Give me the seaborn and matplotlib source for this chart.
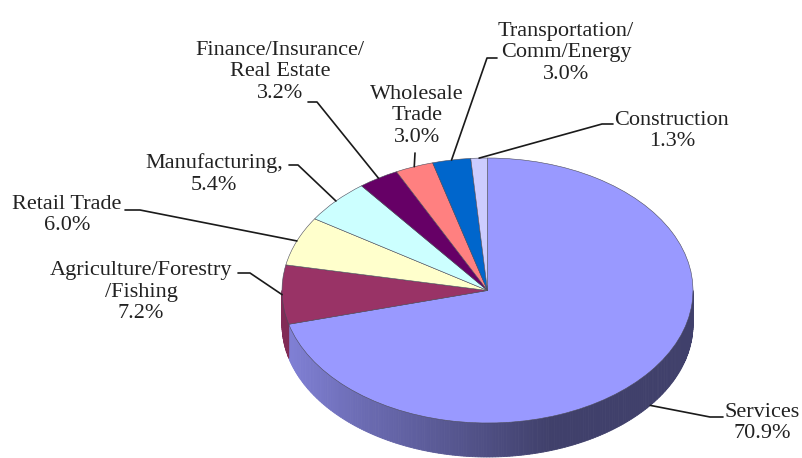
import matplotlib
matplotlib.use("Agg")
import matplotlib.pyplot as plt
from matplotlib.patches import Polygon
from matplotlib.colors import to_rgb
import numpy as np
import seaborn as sns

# data
sectors = ['Services', 'Agriculture/Forestry\n/Fishing', 'Retail Trade', 'Manufacturing,',
           'Finance/Insurance/\nReal Estate', 'Wholesale\nTrade',
           'Transportation/\nComm/Energy', 'Construction']
shares = [70.9, 7.2, 6.0, 5.4, 3.2, 3.0, 3.0, 1.3]
colors = ['#9999FF', '#993366', '#FFFFCC', '#CCFFFF', '#660066', '#FF8080', '#0066CC', '#CCCCFF']

# layout in pixels of the 803x458 canvas
CX, CY, RX, RY, DEPTH = 487.5, 290.5, 205.5, 132.5, 34
label_pos = [(762, 423), (141, 292), (67, 215), (214, 174),
             (280, 72), (417, 116), (566, 53), (672, 131)]
leader_px = [[(723, 417), (710, 417)], [(238, 273), (250, 273)], [(125, 210), (140, 210)],
             [(289, 165), (298, 165)], [(308, 102), (317, 102)], [(415, 153)],
             [(497, 58), (487, 58)], [(613, 124), (602, 124)]]


def px(x, y):
    # pixel -> pie units (unit circle squashed to the ellipse)
    return (x - CX) / RX, (CY - y) / RY


sns.set_theme(style="white")
plt.rcParams['font.family'] = ['Liberation Serif', 'DejaVu Serif']

fig = plt.figure(figsize=(8.03, 4.58), dpi=100)
ax = fig.add_axes([0, 0, 1, 1])

h = DEPTH / RY
cum = np.concatenate([[0], np.cumsum(shares)])
t_start = 90 - 3.6 * cum[:-1]
t_end = 90 - 3.6 * cum[1:]

# side wall, only the front half (-180..0 deg) shows
for i in range(len(shares)):
    lo, hi = max(t_end[i], -180), min(t_start[i], 0)
    if lo >= hi:
        continue
    base = np.array(to_rgb(colors[i]))
    steps = np.linspace(lo, hi, int((hi - lo) / 0.8) + 2)
    for a, b in zip(steps[:-1], steps[1:]):
        ra, rb = np.radians(a), np.radians(b)
        f = np.interp(np.cos(np.radians((a + b) / 2)), [-1, -0.6, 0.3], [0.85, 0.7, 0.42])
        c = np.clip(base * f, 0, 1)
        quad = [(np.cos(ra), np.sin(ra)), (np.cos(rb), np.sin(rb)),
                (np.cos(rb), np.sin(rb) - h), (np.cos(ra), np.sin(ra) - h)]
        ax.add_patch(Polygon(quad, closed=True, facecolor=c, edgecolor=c, lw=0.6, zorder=1))

ax.pie(shares, colors=colors, startangle=90, counterclock=False, radius=1,
       wedgeprops=dict(edgecolor='#4a4a5a', linewidth=0.4, zorder=2))

# labels and leader lines
for i, name in enumerate(sectors):
    tx, ty = px(*label_pos[i])
    ax.text(tx, ty, f"{name}\n{shares[i]:.1f}%", ha='center', va='center',
            multialignment='center', fontsize=16, color='#222222', linespacing=1.15, zorder=5)
    mid = np.radians((t_start[i] + t_end[i]) / 2)
    ax_, ay_ = np.cos(mid), np.sin(mid)
    if i == 0:
        ay_ -= h
    pts = [px(*p) for p in leader_px[i]] + [(ax_, ay_)]
    xs, ys = zip(*pts)
    ax.plot(xs, ys, color='#1a1a1a', lw=1.2, zorder=4)

ax.set_aspect('auto')
ax.set_xlim(px(0, 0)[0], px(803, 0)[0])
ax.set_ylim(px(0, 458)[1], px(0, 0)[1])
ax.axis('off')

fig.savefig('out.png', dpi=100)
